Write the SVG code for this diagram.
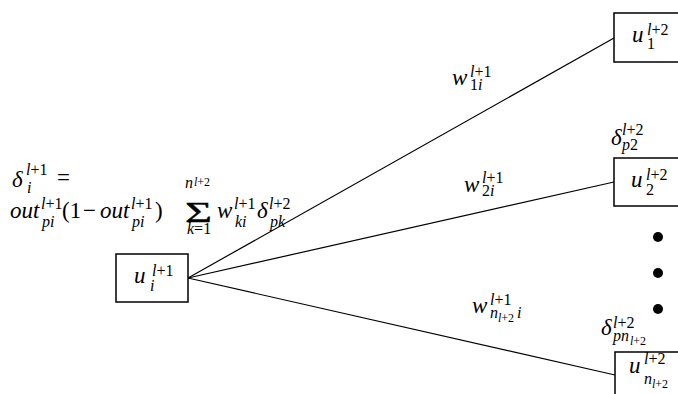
<svg xmlns="http://www.w3.org/2000/svg" width="678" height="394" viewBox="0 0 678 394">
<style>
text{fill:#000}
.m{font-size:23px}
.s{font-size:16px}
.ss{font-size:12px}
.box{fill:#fff;stroke:#000;stroke-width:1.5}
.edge{stroke:#000;stroke-width:1.2;fill:none}
</style>
<rect width="678" height="394" fill="#fff"/>
<g id="connectors">
<line class="edge" x1="188" y1="278" x2="614" y2="38"/>
<line class="edge" x1="188" y1="278" x2="614" y2="182"/>
<line class="edge" x1="188" y1="278" x2="615" y2="375"/>
</g>
<g font-family="'Liberation Serif', 'DejaVu Serif', serif" font-style="italic">
<g id="formula">
<text class="m" x="12" y="187">δ</text>
<text class="s" x="26" y="175">l<tspan font-style="normal">+1</tspan></text>
<text class="s" x="27" y="193">i</text>
<text class="m" font-style="normal" x="57" y="185">=</text>
<text class="m" x="10" y="218">out</text>
<text class="s" x="41" y="209">l<tspan font-style="normal">+1</tspan></text>
<text class="s" x="42" y="227">pi</text>
<text class="m" font-style="normal" x="62" y="218">(1</text>
<text class="m" font-style="normal" x="83" y="218">−</text>
<text class="m" x="100" y="218">out</text>
<text class="s" x="131" y="209">l<tspan font-style="normal">+1</tspan></text>
<text class="s" x="132" y="227">pi</text>
<text class="m" font-style="normal" x="155" y="218">)</text>
<text font-style="normal" font-size="29" stroke="#000" stroke-width="0.4" transform="translate(185,222) scale(1.6,1)" x="0" y="0">Σ</text>
<text class="s" x="185" y="188">n</text>
<text class="ss" x="194" y="186">l<tspan font-style="normal">+2</tspan></text>
<text class="s" x="187" y="234">k<tspan font-style="normal">=1</tspan></text>
<text class="m" x="217" y="218">w</text>
<text class="s" x="234" y="209">l<tspan font-style="normal">+1</tspan></text>
<text class="s" x="235" y="227">ki</text>
<text class="m" x="257" y="218">δ</text>
<text class="s" x="269" y="209">l<tspan font-style="normal">+2</tspan></text>
<text class="s" x="270" y="227">pk</text>
</g>
<g id="node-ui">
<rect class="box" x="116" y="254" width="72" height="48"/>
<text class="m" x="134" y="283">u</text>
<text class="s" x="152" y="276">l<tspan font-style="normal">+1</tspan></text>
<text class="s" x="150" y="291">i</text>
</g>
<g id="node-u1">
<rect class="box" x="614" y="13" width="80" height="49"/>
<text class="m" x="632" y="42">u</text>
<text class="s" x="647" y="35">l<tspan font-style="normal">+2</tspan></text>
<text class="s" font-style="normal" x="647" y="49">1</text>
</g>
<g id="node-u2">
<rect class="box" x="614" y="158" width="80" height="48"/>
<text class="m" x="631" y="187">u</text>
<text class="s" x="646" y="180">l<tspan font-style="normal">+2</tspan></text>
<text class="s" font-style="normal" x="646" y="195">2</text>
<text class="m" x="611" y="145">δ</text>
<text class="s" x="622" y="135">l<tspan font-style="normal">+2</tspan></text>
<text class="s" x="622" y="150">p<tspan font-style="normal">2</tspan></text>
</g>
<g id="node-un">
<rect class="box" x="615" y="352" width="80" height="50"/>
<text class="m" x="629" y="373">u</text>
<text class="s" x="644" y="364">l<tspan font-style="normal">+2</tspan></text>
<text class="s" x="644" y="384">n</text>
<text class="ss" x="652" y="388">l<tspan font-style="normal">+2</tspan></text>
<text class="m" x="601" y="335">δ</text>
<text class="s" x="613" y="328">l<tspan font-style="normal">+2</tspan></text>
<text class="s" x="613" y="341">pn</text>
<text class="ss" x="630" y="345">l<tspan font-style="normal">+2</tspan></text>
</g>
<g id="edge-labels">
<text class="m" x="452" y="85">w</text>
<text class="s" x="470" y="77">l<tspan font-style="normal">+1</tspan></text>
<text class="s" x="470" y="90"><tspan font-style="normal">1</tspan>i</text>
<text class="m" x="464" y="192">w</text>
<text class="s" x="482" y="183">l<tspan font-style="normal">+1</tspan></text>
<text class="s" x="482" y="196"><tspan font-style="normal">2</tspan>i</text>
<text class="m" x="472" y="313">w</text>
<text class="s" x="490" y="305">l<tspan font-style="normal">+1</tspan></text>
<text class="s" x="490" y="318">n</text>
<text class="ss" x="498" y="322">l<tspan font-style="normal">+2</tspan></text>
<text class="s" x="517" y="318">i</text>
</g>
</g>
<g id="dots">
<circle cx="658" cy="237" r="5"/>
<circle cx="658" cy="273" r="5"/>
<circle cx="658" cy="309" r="5"/>
</g>
</svg>
